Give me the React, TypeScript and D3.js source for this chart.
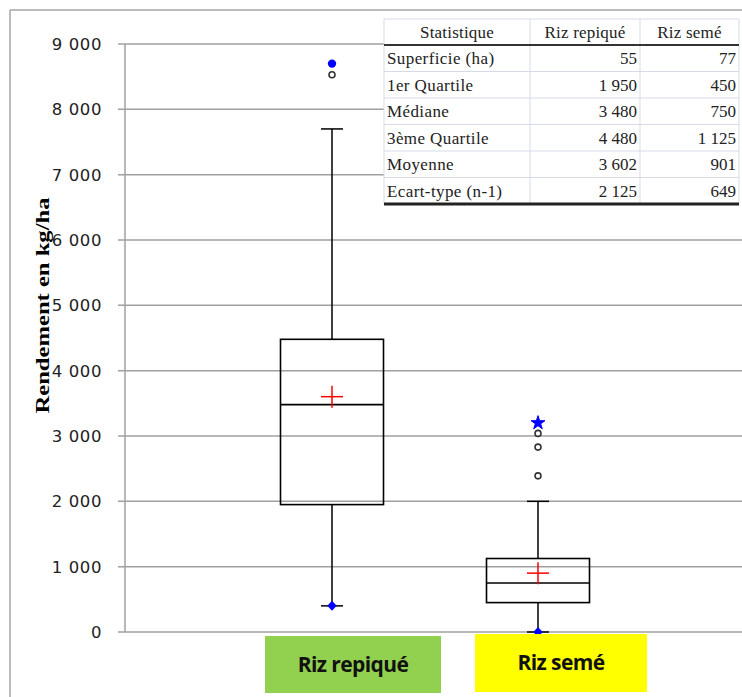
import React from "react";
import * as d3 from "d3";

const categories = ["Riz repiqué", "Riz semé"];
const q1 = [1950, 450];
const median = [3480, 750];
const q3 = [4480, 1125];
const mean = [3602, 901];
const whiskerLow = [400, 0];
const whiskerHigh = [7700, 2000];
const minVals = [400, 0];
const maxVals = [8700, 3200];
const outliers = [[8530], [2390, 2830, 3040]];
const yTicks = [0, 1000, 2000, 3000, 4000, 5000, 6000, 7000, 8000, 9000];
const tableHeader = ["Statistique", "Riz repiqué", "Riz semé"];
const tableStats = ["Superficie (ha)", "1er Quartile", "Médiane", "3ème Quartile", "Moyenne", "Ecart-type (n-1)"];
const tableRepique = ["55", "1 950", "3 480", "4 480", "3 602", "2 125"];
const tableSeme = ["77", "450", "750", "1 125", "901", "649"];
const labelColors = ["#92d050", "#ffff00"];

const W = 742;
const H = 697;
const axisX = 125;
const fmt = (v: number) => d3.format(",")(v).replace(/,/g, " ");

export default function App() {
  const y = d3.scaleLinear().domain([0, 9000]).range([632, 44]);
  const x = d3.scalePoint<string>().domain(categories).range([332, 538]);
  const boxW = 103;
  const capW = 22;
  const diamond = d3.symbol().type(d3.symbolDiamond).size(45)();
  const dot = d3.symbol().type(d3.symbolCircle).size(55)();
  const star = d3.symbol().type(d3.symbolStar).size(60)();
  const circle = d3.symbol().type(d3.symbolCircle).size(28)();

  const tableX = [384, 530, 640, 739];
  const tableTop = 19;
  const headerH = 26;
  const rowH = 26.5;
  const tableBottom = tableTop + headerH + rowH * tableStats.length;
  const serif = "Liberation Serif";

  const labelBoxes = [
    { x: 265, y: 636, w: 176, h: 57 },
    { x: 475, y: 634, w: 172, h: 58 },
  ];

  return (
    <div style={{ position: "absolute", left: 0, top: 0 }}>
      <svg width={W} height={H} style={{ display: "block", background: "#fff" }}>
        {/* outer frame */}
        <line x1={10} y1={10} x2={W} y2={10} stroke="#a6a6a6" strokeWidth={1.5} />
        <line x1={10} y1={10} x2={10} y2={H} stroke="#a6a6a6" strokeWidth={1.5} />

        {/* gridlines and ticks */}
        {yTicks.map((t) => (
          <g key={t}>
            <line x1={118} x2={W} y1={y(t)} y2={y(t)} stroke="#a0a0a0" strokeWidth={1.5} />
            <text
              x={102}
              y={y(t)}
              dy="0.36em"
              textAnchor="end"
              fontFamily="DejaVu Sans"
              fontSize={16.5}
              letterSpacing={0.6}
              fill="#222"
            >
              {fmt(t)}
            </text>
          </g>
        ))}
        <line x1={axisX} x2={axisX} y1={y(9000)} y2={y(0)} stroke="#a0a0a0" strokeWidth={1.5} />

        {/* y axis title */}
        <text
          transform={`translate(49,${(y(3500) + y(6800)) / 2 + 10}) rotate(-90)`}
          textAnchor="middle"
          fontFamily={serif}
          fontWeight="bold"
          fontSize={18}
          textLength={216}
          lengthAdjust="spacingAndGlyphs"
          fill="#000"
        >
          Rendement  en  kg/ha
        </text>

        {/* boxes */}
        {categories.map((c, i) => {
          const cx = x(c)!;
          return (
            <g key={c}>
              <line x1={cx} x2={cx} y1={y(q3[i])} y2={y(whiskerHigh[i])} stroke="#000" strokeWidth={1.5} />
              <line x1={cx} x2={cx} y1={y(q1[i])} y2={y(whiskerLow[i])} stroke="#000" strokeWidth={1.5} />
              <line x1={cx - capW / 2} x2={cx + capW / 2} y1={y(whiskerHigh[i])} y2={y(whiskerHigh[i])} stroke="#000" strokeWidth={1.5} />
              <line x1={cx - capW / 2} x2={cx + capW / 2} y1={y(whiskerLow[i])} y2={y(whiskerLow[i])} stroke="#000" strokeWidth={1.5} />
              <rect
                x={cx - boxW / 2}
                y={y(q3[i])}
                width={boxW}
                height={y(q1[i]) - y(q3[i])}
                fill="none"
                stroke="#000"
                strokeWidth={1.6}
              />
              <line x1={cx - boxW / 2} x2={cx + boxW / 2} y1={y(median[i])} y2={y(median[i])} stroke="#000" strokeWidth={1.6} />
              {/* mean */}
              <line x1={cx - 11} x2={cx + 11} y1={y(mean[i])} y2={y(mean[i])} stroke="#ff0000" strokeWidth={1.5} />
              <line x1={cx} x2={cx} y1={y(mean[i]) - 11} y2={y(mean[i]) + 11} stroke="#ff0000" strokeWidth={1.5} />
              {/* outliers */}
              {outliers[i].map((o, j) => (
                <path key={j} d={circle!} transform={`translate(${cx},${y(o)})`} fill="#fff" stroke="#333" strokeWidth={1.6} />
              ))}
              {/* min / max */}
              <path d={diamond!} transform={`translate(${cx},${y(minVals[i])}) scale(1.3,0.8)`} fill="#0000ff" />
              <path
                d={i === 1 ? star! : dot!}
                transform={`translate(${cx},${y(maxVals[i])})`}
                fill="#0000ff"
                stroke={i === 1 ? "#0000ff" : "none"}
                strokeWidth={1}
              />
            </g>
          );
        })}

        {/* table */}
        <g>
          <rect x={tableX[0]} y={tableTop} width={W - tableX[0]} height={tableBottom - tableTop} fill="#fff" />
          {[tableTop, ...tableStats.map((_, i) => tableTop + headerH + rowH * i)].map((yy, i) => (
            <line key={i} x1={tableX[0]} x2={tableX[3]} y1={yy} y2={yy} stroke="#d5dce8" strokeWidth={1} />
          ))}
          {tableX.map((xx, i) => (
            <line key={i} x1={xx} x2={xx} y1={tableTop} y2={tableBottom} stroke="#d5dce8" strokeWidth={1} />
          ))}
          <line x1={tableX[0]} x2={tableX[3]} y1={tableTop + headerH} y2={tableTop + headerH} stroke="#333" strokeWidth={2} />
          <line x1={tableX[0]} x2={tableX[3]} y1={tableBottom} y2={tableBottom} stroke="#222" strokeWidth={3} />
          {tableHeader.map((h, i) => (
            <text
              key={h}
              x={(tableX[i] + tableX[i + 1]) / 2}
              y={tableTop + headerH / 2}
              dy="0.35em"
              textAnchor="middle"
              fontFamily={serif}
              fontSize={17}
              letterSpacing={0.2}
              fill="#222"
            >
              {h}
            </text>
          ))}
          {tableStats.map((s, r) => {
            const cy = tableTop + headerH + rowH * r + rowH / 2;
            return (
              <g key={s}>
                <text x={tableX[0] + 3} y={cy} dy="0.35em" fontFamily={serif} fontSize={17} letterSpacing={0.4} fill="#222">
                  {s}
                </text>
                <text x={tableX[2] - 3} y={cy} dy="0.35em" textAnchor="end" fontFamily={serif} fontSize={17} fill="#222">
                  {tableRepique[r]}
                </text>
                <text x={tableX[3] - 3} y={cy} dy="0.35em" textAnchor="end" fontFamily={serif} fontSize={17} fill="#222">
                  {tableSeme[r]}
                </text>
              </g>
            );
          })}
        </g>

        {/* category labels */}
        {categories.map((c, i) => {
          const b = labelBoxes[i];
          return (
            <g key={c}>
              <rect x={b.x} y={b.y} width={b.w} height={b.h} fill={labelColors[i]} />
              <text
                x={b.x + b.w / 2}
                y={b.y + b.h / 2}
                dy="0.35em"
                textAnchor="middle"
                fontFamily="Open Sans"
                fontWeight="bold"
                fontSize={21}
                letterSpacing={-0.6}
                fill="#111"
              >
                {c}
              </text>
            </g>
          );
        })}
      </svg>
    </div>
  );
}
